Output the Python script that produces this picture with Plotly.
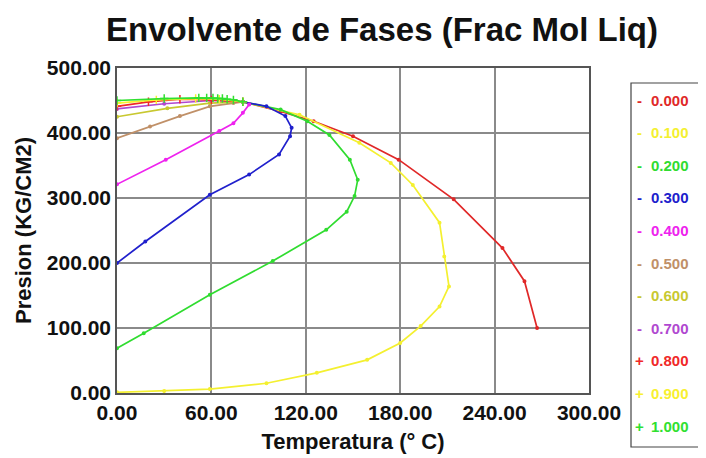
import plotly.graph_objects as go

fractions = ["0.000", "0.100", "0.200", "0.300", "0.400", "0.500", "0.600", "0.700", "0.800", "0.900", "1.000"]
colors = ["#e02828", "#f4f030", "#30dc30", "#2020cc", "#ee22ee", "#c09068", "#c8c830", "#b048d0", "#f02828", "#f8f030", "#30e030"]

t_000 = [80, 104, 125, 150, 179, 214, 245, 259, 267]
p_000 = [448, 433, 418, 395, 359, 298, 223, 172, 100]

t_010 = [0, 30, 59, 95, 127, 159, 180, 193, 205, 211, 208, 205, 188, 174, 154, 116, 80]
p_010 = [1, 3, 6, 15, 31, 51, 77, 103, 133, 164, 210, 262, 320, 354, 385, 428, 448]

t_020 = [0, 17, 59, 99, 133, 146, 151, 153, 148, 135, 121, 104, 80]
p_020 = [69, 92, 151, 203, 251, 279, 303, 328, 359, 397, 418, 436, 448]

t_030 = [0, 18, 59, 84, 103, 110, 111, 107, 95, 80]
p_030 = [200, 233, 305, 336, 367, 395, 408, 426, 441, 448]

t_040 = [0, 31, 65, 74, 80, 84]
p_040 = [321, 359, 403, 415, 431, 444]

t_050 = [0, 21, 40, 59, 74, 80]
p_050 = [392, 410, 426, 441, 446, 448]

t_060 = [0, 32, 59, 80]
p_060 = [425, 438, 446, 448]

t_070 = [0, 30, 60, 80]
p_070 = [437, 445, 450, 448]

t_080 = [0, 20, 40, 60, 80]
p_080 = [441, 448, 452, 451, 448]

t_090 = [0, 25, 50, 65, 80]
p_090 = [446, 451, 453, 452, 448]

t_100 = [0, 30, 52, 57, 61, 64, 67, 70, 74, 80]
p_100 = [450, 453, 454, 454, 454, 453, 453, 452, 451, 448]

temps = [t_000, t_010, t_020, t_030, t_040, t_050, t_060, t_070, t_080, t_090, t_100]
pres = [p_000, p_010, p_020, p_030, p_040, p_050, p_060, p_070, p_080, p_090, p_100]

x_ticks = [0, 60, 120, 180, 240, 300]
y_ticks = [0, 100, 200, 300, 400, 500]

FONT = "Liberation Sans, Arial, sans-serif"

# page body has an 8px margin, so the figure is sized to fill the window
W, H = 698, 450
ML, MR, MT, MB = 109, 117, 60, 65
PW, PH = W - ML - MR, H - MT - MB


def px(X):
    return (X - 8 - ML) / PW


def py(Y):
    return (H - MB + 8 - Y) / PH


fig = go.Figure()
for i, (name, c, t, p) in enumerate(zip(fractions, colors, temps, pres)):
    sym = "cross-thin" if i >= 8 else "circle"
    size = 6 if i >= 8 else 2.5
    fig.add_trace(go.Scatter(
        x=t, y=p, mode="lines+markers", name=name, showlegend=False,
        line=dict(color=c, width=1.7),
        marker=dict(color=c, size=size, symbol=sym, line=dict(color=c, width=1.5)),
    ))

# legend box
shapes = [dict(type="rect", xref="paper", yref="paper",
               x0=px(631), x1=px(705), y0=py(447), y1=py(83),
               line=dict(color="#444444", width=1.2), fillcolor="white", layer="above")]
annotations = []
for i, (name, c) in enumerate(zip(fractions, colors)):
    yy = py(100 + 32.6 * i)
    mark = "+" if i >= 8 else "-"
    annotations.append(dict(xref="paper", yref="paper", x=px(639), y=yy,
                            xanchor="center", yanchor="middle", showarrow=False,
                            text=f"<b>{mark}</b>", font=dict(family=FONT, size=15, color=c)))
    annotations.append(dict(xref="paper", yref="paper", x=px(649), y=yy,
                            xanchor="left", yanchor="middle", showarrow=False,
                            text=f"<b>{name}</b>", font=dict(family=FONT, size=15, color=c)))

fig.update_layout(
    width=W, height=H,
    paper_bgcolor="white", plot_bgcolor="white",
    margin=dict(l=ML, r=MR, t=MT, b=MB, autoexpand=False),
    title=dict(text="<b>Envolvente de Fases (Frac Mol Liq)</b>", x=(382 - 8) / W, xanchor="center",
               y=1 - (29 - 8) / H, yanchor="middle",
               font=dict(family=FONT, size=33, color="#111111")),
    font=dict(family=FONT, color="#111111"),
    shapes=shapes,
    annotations=annotations,
    showlegend=False,
)
fig.update_xaxes(range=[0, 300], tickvals=x_ticks, tickformat=".2f", automargin=False,
                 showgrid=True, gridcolor="#8a8a8a", gridwidth=1.5,
                 showline=True, linecolor="#555555", linewidth=1.5, mirror=True,
                 ticks="", zeroline=False,
                 tickfont=dict(family=FONT, size=21, weight="bold"),
                 title=dict(text="<b>Temperatura (° C)</b>", font=dict(family=FONT, size=22), standoff=11))
fig.update_yaxes(range=[0, 500], tickvals=y_ticks, tickformat=".2f", automargin=False,
                 showgrid=True, gridcolor="#8a8a8a", gridwidth=1.5,
                 showline=True, linecolor="#555555", linewidth=1.5, mirror=True,
                 ticks="", zeroline=False,
                 tickfont=dict(family=FONT, size=21, weight="bold"),
                 title=dict(text="<b>Presion (KG/CM2)</b>", font=dict(family=FONT, size=22), standoff=9))

fig.write_html("out.html")
